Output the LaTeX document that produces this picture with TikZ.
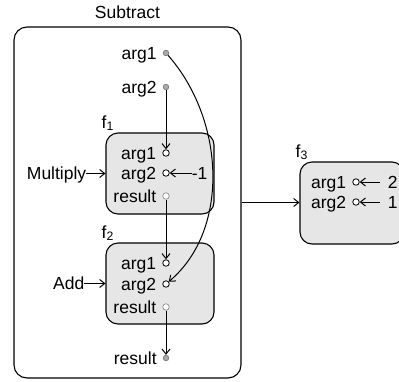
\documentclass[tikz,border=0pt]{standalone}
\usepackage{fontspec}
\setmainfont{Liberation Sans}
\usetikzlibrary{arrows.meta,positioning}
\definecolor{boxfill}{HTML}{E6E6E6}
\definecolor{portgray}{HTML}{ABABAB}

\begin{document}
\begin{tikzpicture}[x=1pt, y=-1pt,
  every node/.style={font=\fontsize{17.5}{20}\selectfont},
  txt/.style={inner sep=0pt, text height=12.6pt, text depth=0pt},
  port/.style={circle, draw, fill=white, line width=0.8pt, minimum size=6.5pt, inner sep=0pt},
  extport/.style={port, draw=gray, fill=portgray, minimum size=5.5pt},
  resport/.style={port, draw=gray, line width=0.6pt},
  fbox/.style={draw, rounded corners=12pt, fill=boxfill, line width=1.1pt, minimum width=108pt, minimum height=81pt},
  outer/.style={draw, rounded corners=13pt, line width=1.1pt, minimum width=227pt, minimum height=351pt},
  wire/.style={line width=1pt, -{Straight Barb[length=5pt,width=8pt]}},
]
  \useasboundingbox (0,0) rectangle (399,381);

  % enclosing function
  \node[outer] (sub) at (127.5,202.5) {};
  \node[txt, above=8pt of sub] (subname) {Subtract};
  \node[extport] (s-a1) at (166,53) {};
  \node[txt, left=6pt of s-a1] (s-a1l) {arg1};
  \node[extport] (s-a2) at (166,87) {};
  \node[txt, left=6pt of s-a2] (s-a2l) {arg2};
  \node[extport] (s-r) at (166,358) {};
  \node[txt, left=6pt of s-r] (s-rl) {result};

  % f1
  \node[fbox] (f1) at (160,173.5) {};
  \node[txt, above right=4pt and -4pt of f1.north west] (f1n) {f\textsubscript{1}};
  \node[port] (f1-a1) at (166,153) {};
  \node[txt, left=6pt of f1-a1] (f1-a1l) {arg1};
  \node[port] (f1-a2) at (166,173) {};
  \node[txt, left=6pt of f1-a2] (f1-a2l) {arg2};
  \node[resport] (f1-r) at (166,196) {};
  \node[txt, left=6pt of f1-r] (f1-rl) {result};
  \node[txt, left=19pt of f1] (mul) {Multiply};
  \node[txt, right=22pt of f1-a2] (m1) {-1};

  % f2
  \node[fbox] (f2) at (160,283.5) {};
  \node[txt, above right=4pt and -4pt of f2.north west] (f2n) {f\textsubscript{2}};
  \node[port] (f2-a1) at (166,263) {};
  \node[txt, left=6pt of f2-a1] (f2-a1l) {arg1};
  \node[port] (f2-a2) at (166,284) {};
  \node[txt, left=6pt of f2-a2] (f2-a2l) {arg2};
  \node[resport] (f2-r) at (166,307) {};
  \node[txt, left=6pt of f2-r] (f2-rl) {result};
  \node[txt, left=21pt of f2] (add) {Add};

  % f3
  \node[fbox, minimum width=104pt, minimum height=82pt] (f3) at (352,203) {};
  \node[txt, above right=4pt and -4pt of f3.north west] (f3n) {f\textsubscript{3}};
  \node[port] (f3-a1) at (356,182) {};
  \node[txt, left=6pt of f3-a1] (f3-a1l) {arg1};
  \node[port] (f3-a2) at (356,202) {};
  \node[txt, left=6pt of f3-a2] (f3-a2l) {arg2};
  \node[txt, inner xsep=8pt, right=20pt of f3-a1] (c2) {2};
  \node[txt, inner xsep=8pt, right=20pt of f3-a2] (c1) {1};

  % wires
  \draw[wire] (s-a2) -- (f1-a1);
  \draw[wire] (f1-r) -- (f2-a1);
  \draw[wire] (f2-r) -- (s-r);
  \draw[wire] (s-a1) .. controls (225,120) and (230,230) .. (f2-a2);
  \draw[wire] (mul) -- (f1);
  \draw[wire] (add) -- (f2);
  \draw[wire] (m1) -- (f1-a2);
  \draw[wire] (c2) -- (f3-a1);
  \draw[wire] (c1) -- (f3-a2);
  \draw[wire] (sub.east) -- (f3.west |- sub.east);
\end{tikzpicture}
\end{document}
